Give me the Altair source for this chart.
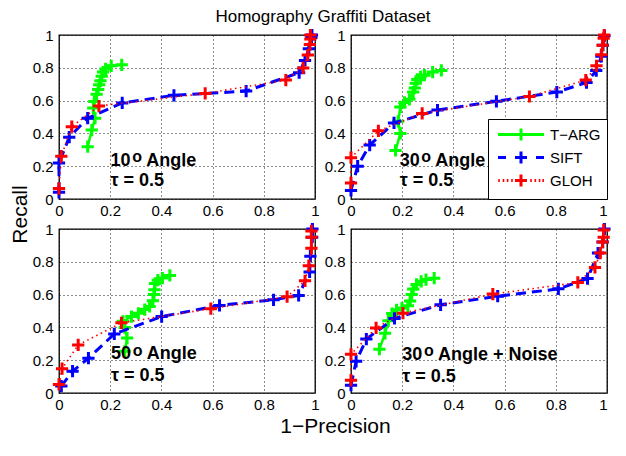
import altair as alt
import pandas as pd

FONT = "Liberation Sans"
SERIES = ["T−ARG", "SIFT", "GLOH"]
COLORS = ["#00ff00", "#0000ff", "#ff0000"]
TICKS = [0, 0.2, 0.4, 0.6, 0.8, 1]

# ---- Panel 1: 10 deg ----
p1_targ_x = [0.112, 0.128, 0.141, 0.134, 0.138, 0.147, 0.153, 0.157, 0.162, 0.167, 0.172, 0.182, 0.204, 0.245]
p1_targ_y = [0.319, 0.420, 0.493, 0.555, 0.594, 0.638, 0.667, 0.696, 0.721, 0.748, 0.774, 0.793, 0.812, 0.818]
p1_sift_x = [0.0, 0.0, 0.040, 0.112, 0.247, 0.449, 0.731, 0.938, 0.961, 0.976, 0.986, 0.988]
p1_sift_y = [0.041, 0.219, 0.377, 0.493, 0.586, 0.632, 0.658, 0.770, 0.845, 0.916, 0.984, 1.0]
p1_gloh_x = [0.0, 0.009, 0.050, 0.156, 0.571, 0.886, 0.954, 0.972, 0.980, 0.982, 0.982]
p1_gloh_y = [0.064, 0.261, 0.441, 0.567, 0.644, 0.725, 0.799, 0.878, 0.942, 0.975, 1.0]

# ---- Panel 2: 30 deg ----
p2_targ_x = [0.174, 0.193, 0.184, 0.193, 0.209, 0.228, 0.243, 0.249, 0.253, 0.259, 0.272, 0.287, 0.319, 0.353]
p2_targ_y = [0.296, 0.400, 0.474, 0.561, 0.589, 0.608, 0.652, 0.677, 0.706, 0.729, 0.745, 0.755, 0.774, 0.784]
p2_sift_x = [0.0, 0.026, 0.073, 0.168, 0.338, 0.568, 0.804, 0.920, 0.958, 0.978, 0.984, 0.990]
p2_sift_y = [0.052, 0.200, 0.329, 0.464, 0.542, 0.596, 0.652, 0.710, 0.783, 0.870, 0.938, 0.996]
p2_gloh_x = [0.0, 0.0, 0.107, 0.278, 0.697, 0.917, 0.959, 0.978, 0.983, 0.987, 0.989]
p2_gloh_y = [0.098, 0.252, 0.416, 0.522, 0.625, 0.725, 0.812, 0.880, 0.938, 0.980, 1.0]

# ---- Panel 3: 50 deg ----
p3_targ_x = [0.257, 0.266, 0.257, 0.250, 0.283, 0.310, 0.335, 0.354, 0.367, 0.371, 0.373, 0.375, 0.386, 0.404, 0.433]
p3_targ_y = [0.254, 0.335, 0.399, 0.437, 0.466, 0.486, 0.509, 0.528, 0.562, 0.601, 0.630, 0.668, 0.688, 0.701, 0.717]
p3_sift_x = [0.009, 0.053, 0.115, 0.216, 0.401, 0.627, 0.838, 0.936, 0.979, 0.982, 0.989, 0.990]
p3_sift_y = [0.042, 0.133, 0.212, 0.360, 0.466, 0.534, 0.568, 0.595, 0.738, 0.834, 0.950, 1.0]
p3_gloh_x = [0.0, 0.012, 0.075, 0.244, 0.593, 0.891, 0.961, 0.976, 0.986, 0.986, 0.986]
p3_gloh_y = [0.052, 0.148, 0.293, 0.428, 0.514, 0.587, 0.684, 0.776, 0.882, 0.950, 0.988]

# ---- Panel 4: 30 deg + noise ----
p4_targ_x = [0.111, 0.133, 0.146, 0.161, 0.178, 0.199, 0.222, 0.231, 0.237, 0.243, 0.256, 0.274, 0.293, 0.325]
p4_targ_y = [0.267, 0.364, 0.441, 0.484, 0.507, 0.518, 0.532, 0.561, 0.600, 0.634, 0.662, 0.681, 0.692, 0.700]
p4_sift_x = [0.0, 0.020, 0.060, 0.170, 0.350, 0.573, 0.810, 0.924, 0.965, 0.983, 0.990]
p4_sift_y = [0.048, 0.193, 0.329, 0.455, 0.538, 0.590, 0.635, 0.698, 0.853, 0.920, 1.0]
p4_gloh_x = [0.0, 0.0, 0.098, 0.203, 0.554, 0.886, 0.953, 0.974, 0.983, 0.987, 0.987]
p4_gloh_y = [0.077, 0.236, 0.397, 0.487, 0.603, 0.674, 0.766, 0.853, 0.920, 0.950, 0.994]

# annotation texts (per panel)
ANGLE_NUM = ["10", "30", "50", "30"]
ANGLE_TXT = ["Angle", "Angle", "Angle", "Angle + Noise"]
TAU_TXT = ["τ = 0.5", "τ = 0.5", "τ = 0.5", "τ = 0.5"]
ANN_X = [0.201, 0.190, 0.203, 0.200]
ANN_Y1 = [0.203, 0.203, 0.206, 0.203]
ANN_Y2 = [0.079, 0.078, 0.071, 0.068]

PANEL_DATA = [
    [(p1_targ_x, p1_targ_y), (p1_sift_x, p1_sift_y), (p1_gloh_x, p1_gloh_y)],
    [(p2_targ_x, p2_targ_y), (p2_sift_x, p2_sift_y), (p2_gloh_x, p2_gloh_y)],
    [(p3_targ_x, p3_targ_y), (p3_sift_x, p3_sift_y), (p3_gloh_x, p3_gloh_y)],
    [(p4_targ_x, p4_targ_y), (p4_sift_x, p4_sift_y), (p4_gloh_x, p4_gloh_y)],
]

LINE_STYLE = [
    dict(strokeDash=[1, 0], strokeWidth=2.5),
    dict(strokeDash=[10, 6], strokeWidth=3),
    dict(strokeDash=[1.5, 3.5], strokeWidth=1.6),
]

PLUS = "M-1,0H1M0,-1V1"

# legend symbol paths (unit = 8px, centred on the legend symbol slot)
TARG_PATH = "M-0.6875,0H5.0625M2.1875,-0.75V0.75"
SIFT_PATH = ("M-0.6875,0H0.3125M1.4375,0H2.9375M2.1875,-0.75V0.75"
             "M4.0625,0H5.0625")
GLOH_PATH = ("M-0.66,0h0.2M-0.1,0h0.2M0.41,0h0.2M0.96,0h0.2"
             "M1.4375,0H2.9375M2.1875,-0.75V0.75"
             "M3.34,0h0.2M3.88,0h0.2M4.41,0h0.2M4.86,0h0.2")
LEGEND_PATHS = [TARG_PATH, SIFT_PATH, GLOH_PATH]

W, H = 256, 164
COL_GAP, ROW_GAP = 36, 30

color_scale = alt.Scale(domain=SERIES, range=COLORS)
shape_scale = alt.Scale(domain=SERIES, range=LEGEND_PATHS)
xs = alt.Scale(domain=[0, 1], nice=False, zero=False)
ys = alt.Scale(domain=[0, 1], nice=False, zero=False)

LEGEND = alt.Legend(
    title=None, orient="bottom-right", offset=0,
    fillColor="white", strokeColor="black", padding=6, cornerRadius=0,
    labelFont=FONT, labelFontSize=15, labelColor="black", labelOffset=37,
    symbolSize=256, symbolStrokeWidth=3, rowPadding=-2, symbolOpacity=1,
)


def make_axis_x(col, show_title):
    kw = dict(values=TICKS, format="~g", grid=True, gridColor="black", gridDash=[1, 3],
              gridWidth=1, gridOpacity=0.9, domain=False, ticks=False,
              labelFont=FONT, labelFontSize=15, labelColor="black", labelPadding=4,
              labelFlush=False, labelOverlap=False)
    if col == 1:
        kw["labelAlign"] = {"condition": {"test": "datum.value == 1", "value": "right"},
                            "value": "center"}
    if show_title:
        kw.update(title="1−Precision", titleFont=FONT, titleFontSize=21,
                  titleFontWeight="normal", titleColor="black",
                  titleX=W + COL_GAP / 2 + 2, titleY=39, titleBaseline="alphabetic",
                  titleAlign="center")
    else:
        kw["title"] = None
    return alt.Axis(**kw)


def make_axis_y(show_title):
    kw = dict(values=TICKS, format="~g", grid=True, gridColor="black", gridDash=[1, 3],
              gridWidth=1, gridOpacity=0.9, domain=False, ticks=False,
              labelFont=FONT, labelFontSize=15, labelColor="black", labelPadding=6,
              labelFlush=False, labelOverlap=False)
    if show_title:
        kw.update(title="Recall", titleFont=FONT, titleFontSize=21,
                  titleFontWeight="normal", titleColor="black", titleX=-32.7,
                  titleY=H + ROW_GAP / 2, titleBaseline="alphabetic", titleAlign="center",
                  titleAngle=270)
    else:
        kw["title"] = None
    return alt.Axis(**kw)


def make_panel(i):
    row, col = divmod(i, 2)
    X = alt.X("x:Q", scale=xs, axis=make_axis_x(col, row == 1 and col == 0))
    Y = alt.Y("y:Q", scale=ys, axis=make_axis_y(row == 0 and col == 0))
    layers = []
    for k, (sx, sy) in enumerate(PANEL_DATA[i]):
        df = pd.DataFrame({"x": sx, "y": sy, "idx": list(range(len(sx)))})
        base = alt.Chart(df)
        line = base.mark_line(clip=False, color=COLORS[k], **LINE_STYLE[k]).encode(
            x=X, y=Y, order=alt.Order("idx:Q"),
        )
        pts = base.mark_point(shape=PLUS, filled=False, size=150, strokeWidth=3,
                              opacity=1, clip=False, color=COLORS[k]).encode(x=X, y=Y)
        layers += [line, pts]
    if i == 1:
        # empty layer that only carries the legend
        leg = alt.Chart(alt.Data(values=[])).mark_point(filled=False, strokeWidth=3).encode(
            x=X, y=Y,
            color=alt.Color("series:N", scale=color_scale, legend=LEGEND),
            shape=alt.Shape("series:N", scale=shape_scale, legend=LEGEND),
        )
        layers.append(leg)
    common = dict(align="left", baseline="alphabetic", font=FONT, fontWeight="bold",
                  color="black")
    ann1 = pd.DataFrame({"x": [ANN_X[i]], "y": [ANN_Y1[i]], "num": [ANGLE_NUM[i]],
                         "sup": ["o"], "txt": [ANGLE_TXT[i]]})
    ann2 = pd.DataFrame({"x": [ANN_X[i]], "y": [ANN_Y2[i]], "tau": [TAU_TXT[i]]})
    t1 = alt.Chart(ann1)
    layers.append(t1.mark_text(fontSize=18, **common).encode(x=X, y=Y, text="num:N"))
    layers.append(t1.mark_text(fontSize=16, dx=21.7, dy=-3.5, **common).encode(
        x=X, y=Y, text="sup:N"))
    layers.append(t1.mark_text(fontSize=18, dx=35.7, **common).encode(
        x=X, y=Y, text="txt:N"))
    layers.append(alt.Chart(ann2).mark_text(fontSize=18, **common).encode(
        x=X, y=Y, text="tau:N"))
    return alt.layer(*layers).properties(width=W, height=H)


panels = [make_panel(i) for i in range(4)]

chart = alt.concat(
    *panels, columns=2, spacing={"row": ROW_GAP, "column": COL_GAP}, bounds="flush",
).resolve_scale(
    x="independent", y="independent", color="independent", shape="independent"
).resolve_legend(
    color="independent", shape="independent"
).properties(
    title=alt.TitleParams("Homography Graffiti Dataset", font=FONT, fontSize=17,
                          fontWeight="normal", color="black", anchor="start",
                          frame="group", align="center", dx=264, offset=-4),
    padding={"left": 0, "top": 0, "right": 0, "bottom": 0},
    background="white",
).configure_view(
    stroke="black", strokeWidth=1.3
)

chart.save("out.html", embed_options={"renderer": "svg", "actions": False})
